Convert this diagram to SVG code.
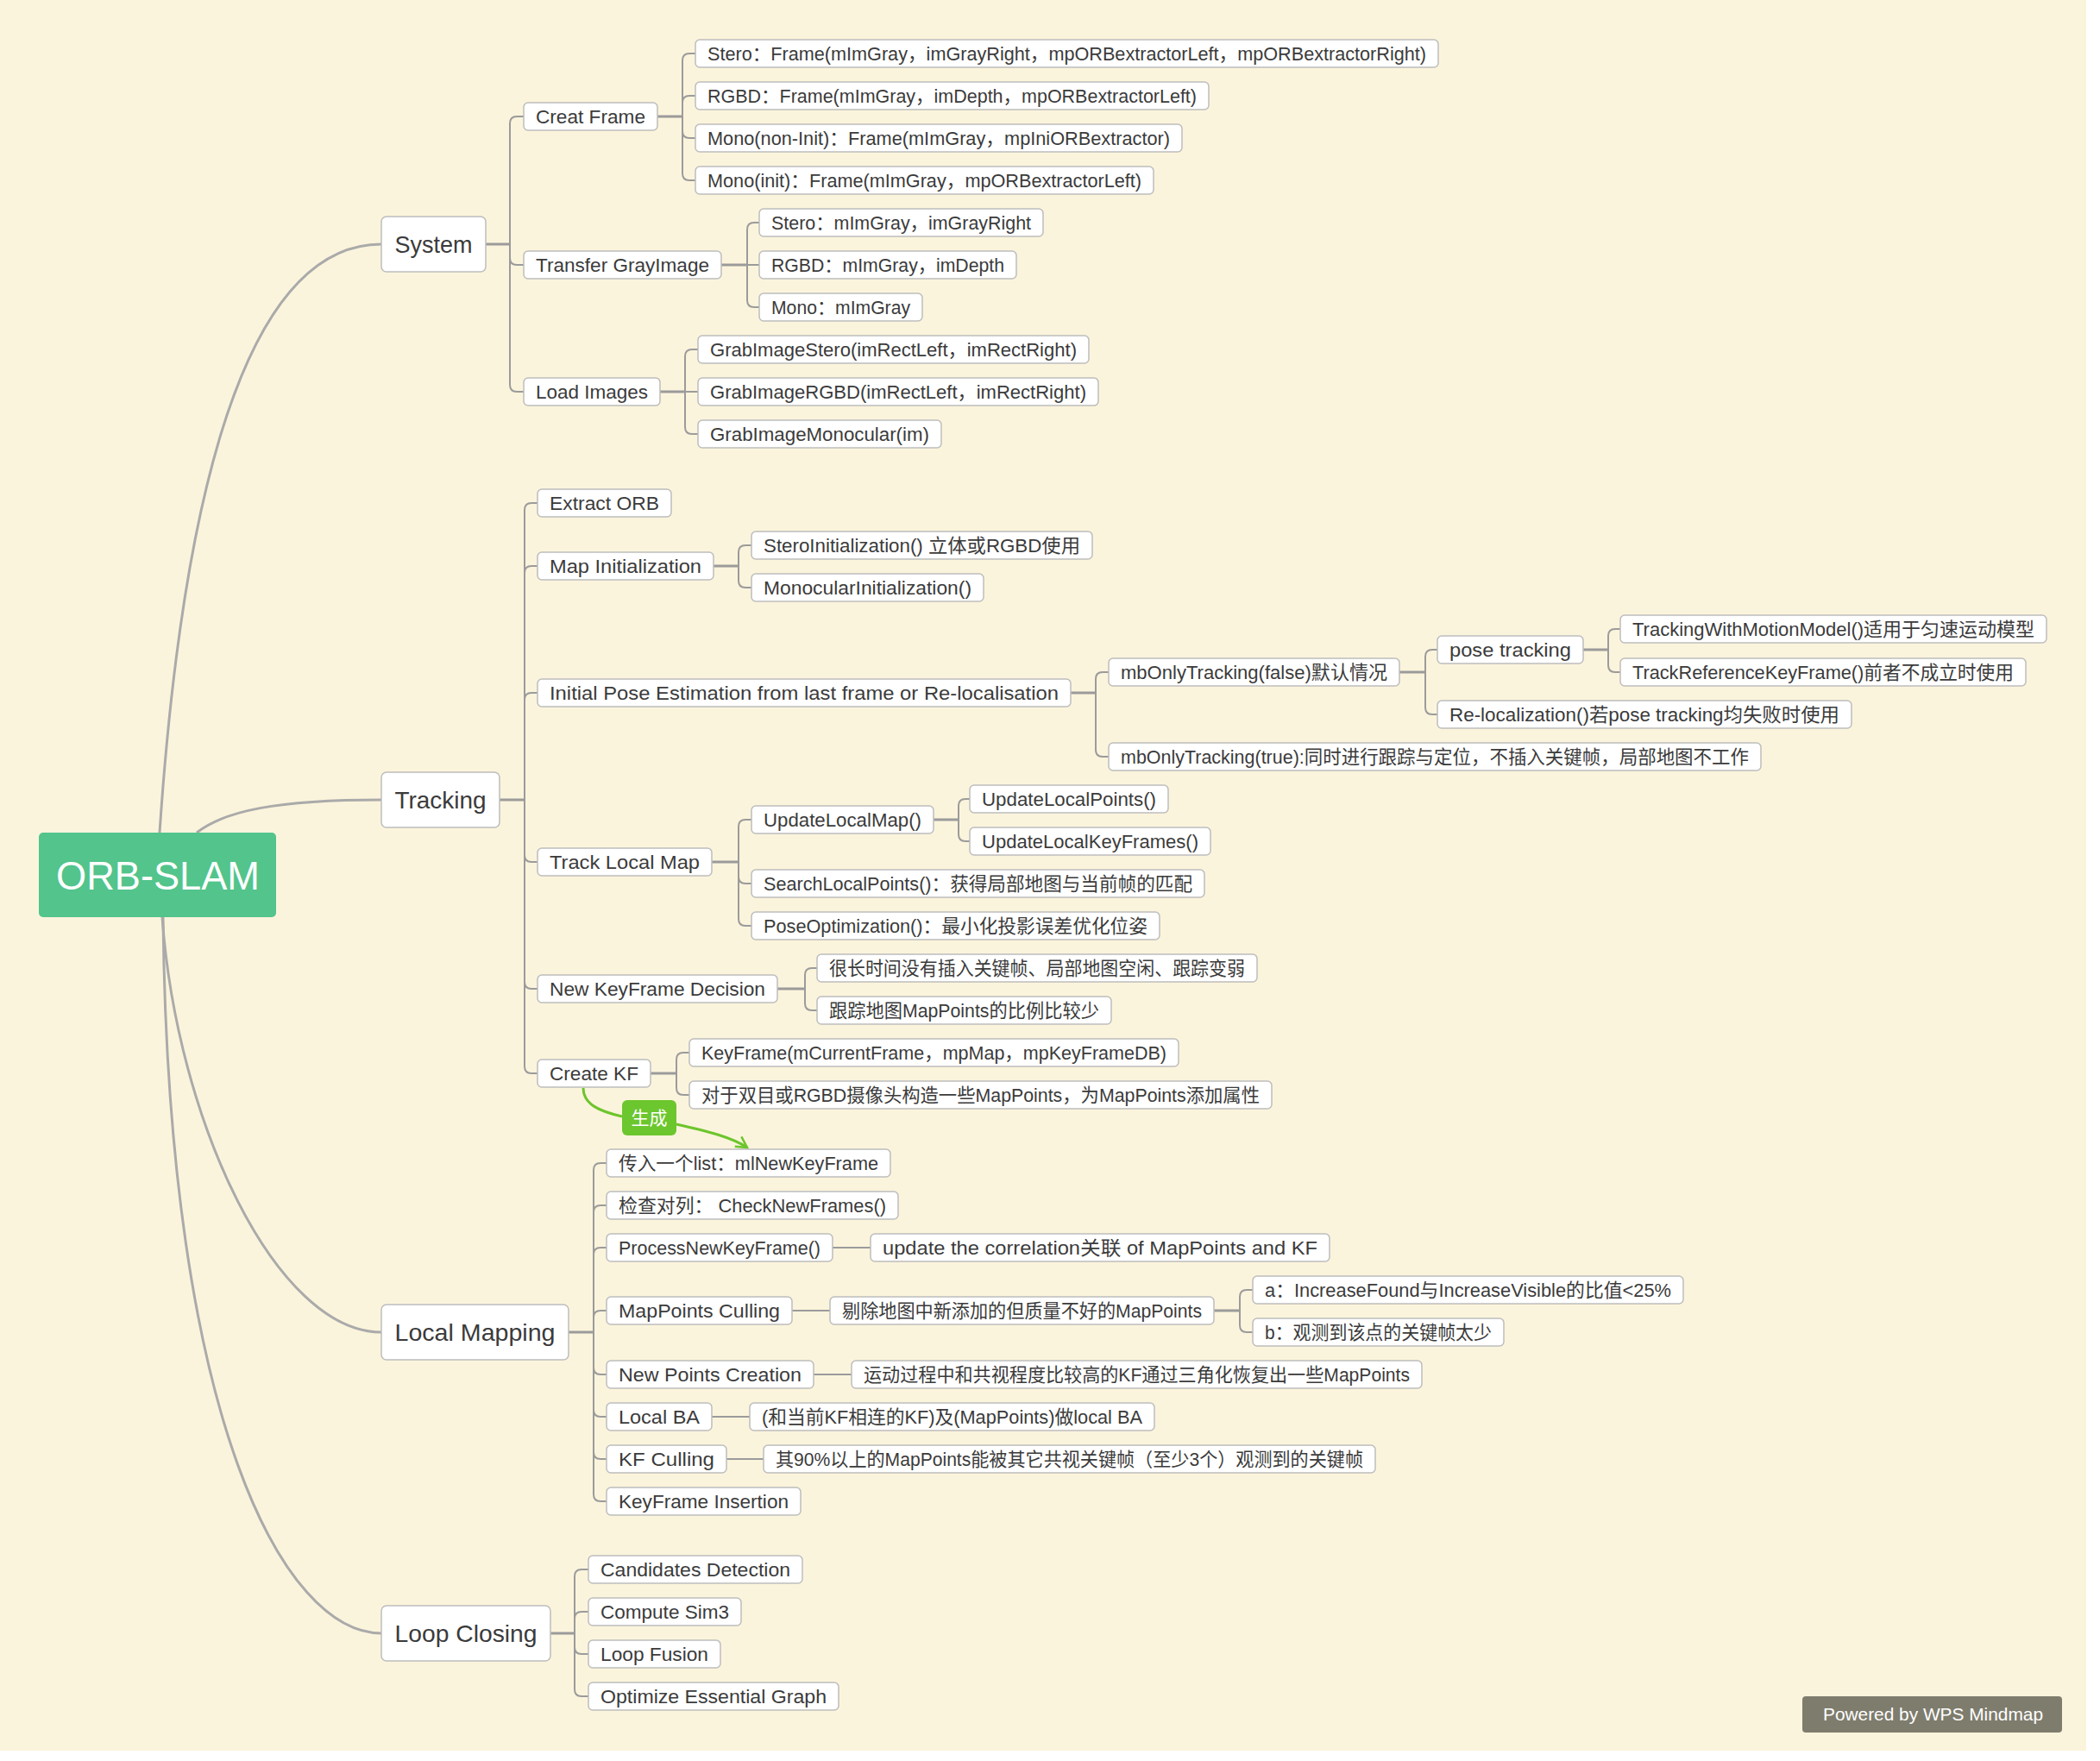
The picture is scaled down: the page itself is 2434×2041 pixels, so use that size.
<svg xmlns="http://www.w3.org/2000/svg" width="2434" height="2041" viewBox="0 0 2434 2041">
<style>
  text { font-family: "Liberation Sans", "Noto Sans CJK SC", sans-serif; fill: #3b3b3b; }
  .n rect { fill: #ffffff; stroke: #bdbdbd; stroke-width: 1.5; }
  .n text { font-size: 22px; }
  .l1 text { font-size: 28px; }
  .root rect { fill: #52c48c; stroke: none; }
  .root text { font-size: 47px; fill: #ffffff; }
  .c path { fill: none; stroke: #9b9b9b; stroke-width: 2; }
  .c path.stub { stroke-width: 3; }
  .c path.main { stroke: #aaaaaa; stroke-width: 3; }
  .rel path { fill: none; stroke: #6cc52c; stroke-width: 3; }
  .tag rect { fill: #6cc62e; }
  .tag text { font-size: 21px; fill: #ffffff; text-anchor: middle; }
  .badge rect { fill: #7e7c6d; }
  .badge text { font-size: 21px; fill: #ffffff; }
</style>
<defs>
  <marker id="openArrow" viewBox="0 0 14 14" refX="12" refY="7" markerWidth="16" markerHeight="16" markerUnits="userSpaceOnUse" orient="auto">
    <path d="M1 1 L12 7 L1 13" fill="none" stroke="#6cc52c" stroke-width="2.2"/>
  </marker>
</defs>

<!-- canvas -->
<rect x="0" y="0" width="2434" height="2041" fill="#ffffff"/>
<rect x="0" y="0" width="2418" height="2029" fill="#fbf4dc"/>

<!-- connectors -->
<g id="connectors" class="c">
  <!-- root branches -->
  <path class="main" d="M185 965 C215 520 300 283 442 283"/>
  <path class="main" d="M228 965 C260 940 320 927 442 927"/>
  <path class="main" d="M188 1063 C205 1300 320 1544 442 1544"/>
  <path class="main" d="M189 1063 C195 1650 330 1893 442 1893"/>

  <!-- System -->
  <path class="stub" d="M563 283 H591"/>
  <path d="M591 283 V143 Q591 135 599 135 H607"/>
  <path d="M591 283 V299 Q591 307 599 307 H607"/>
  <path d="M591 283 V446 Q591 454 599 454 H607"/>
  <!-- Creat Frame -->
  <path class="stub" d="M762 135 H791"/>
  <path d="M791 135 V70 Q791 62 799 62 H806"/>
  <path d="M791 135 V119 Q791 111 799 111 H806"/>
  <path d="M791 135 V152 Q791 160 799 160 H806"/>
  <path d="M791 135 V201 Q791 209 799 209 H806"/>
  <!-- Transfer GrayImage -->
  <path class="stub" d="M836 307 H866"/>
  <path d="M866 307 V266 Q866 258 874 258 H880"/>
  <path d="M866 307 H880"/>
  <path d="M866 307 V348 Q866 356 874 356 H880"/>
  <!-- Load Images -->
  <path class="stub" d="M765 454 H794"/>
  <path d="M794 454 V413 Q794 405 802 405 H809"/>
  <path d="M794 454 H809"/>
  <path d="M794 454 V495 Q794 503 802 503 H809"/>

  <!-- Tracking -->
  <path class="stub" d="M579 927 H608"/>
  <path d="M608 927 V591 Q608 583 616 583 H623"/>
  <path d="M608 927 V664 Q608 656 616 656 H623"/>
  <path d="M608 927 V811 Q608 803 616 803 H623"/>
  <path d="M608 927 V991 Q608 999 616 999 H623"/>
  <path d="M608 927 V1138 Q608 1146 616 1146 H623"/>
  <path d="M608 927 V1236 Q608 1244 616 1244 H623"/>
  <!-- Map Initialization -->
  <path class="stub" d="M827 656 H856"/>
  <path d="M856 656 V640 Q856 632 864 632 H871"/>
  <path d="M856 656 V673 Q856 681 864 681 H871"/>
  <!-- Initial Pose Estimation -->
  <path class="stub" d="M1241 803 H1270"/>
  <path d="M1270 803 V787 Q1270 779 1278 779 H1285"/>
  <path d="M1270 803 V869 Q1270 877 1278 877 H1285"/>
  <!-- mbOnlyTracking(false) -->
  <path class="stub" d="M1622 779 H1652"/>
  <path d="M1652 779 V761 Q1652 753 1660 753 H1666"/>
  <path d="M1652 779 V820 Q1652 828 1660 828 H1666"/>
  <!-- pose tracking -->
  <path class="stub" d="M1835 753 H1864"/>
  <path d="M1864 753 V737 Q1864 729 1872 729 H1878"/>
  <path d="M1864 753 V771 Q1864 779 1872 779 H1878"/>
  <!-- Track Local Map -->
  <path class="stub" d="M825 999 H856"/>
  <path d="M856 999 V958 Q856 950 864 950 H871"/>
  <path d="M856 999 V1016 Q856 1024 864 1024 H871"/>
  <path d="M856 999 V1065 Q856 1073 864 1073 H871"/>
  <!-- UpdateLocalMap -->
  <path class="stub" d="M1081 950 H1111"/>
  <path d="M1111 950 V934 Q1111 926 1119 926 H1124"/>
  <path d="M1111 950 V967 Q1111 975 1119 975 H1124"/>
  <!-- New KeyFrame Decision -->
  <path class="stub" d="M901 1146 H933"/>
  <path d="M933 1146 V1130 Q933 1122 941 1122 H947"/>
  <path d="M933 1146 V1163 Q933 1171 941 1171 H947"/>
  <!-- Create KF -->
  <path class="stub" d="M754 1244 H784"/>
  <path d="M784 1244 V1228 Q784 1220 792 1220 H799"/>
  <path d="M784 1244 V1261 Q784 1269 792 1269 H799"/>

  <!-- Local Mapping -->
  <path class="stub" d="M659 1544 H688"/>
  <path d="M688 1544 V1356 Q688 1348 696 1348 H703"/>
  <path d="M688 1544 V1405 Q688 1397 696 1397 H703"/>
  <path d="M688 1544 V1454 Q688 1446 696 1446 H703"/>
  <path d="M688 1544 V1527 Q688 1519 696 1519 H703"/>
  <path d="M688 1544 V1585 Q688 1593 696 1593 H703"/>
  <path d="M688 1544 V1634 Q688 1642 696 1642 H703"/>
  <path d="M688 1544 V1683 Q688 1691 696 1691 H703"/>
  <path d="M688 1544 V1732 Q688 1740 696 1740 H703"/>
  <path d="M965 1446 H1009"/>
  <path d="M918 1519 H962"/>
  <path d="M943 1593 H987"/>
  <path d="M825 1642 H869"/>
  <path d="M842 1691 H885"/>
  <path class="stub" d="M1407 1519 H1437"/>
  <path d="M1437 1519 V1503 Q1437 1495 1445 1495 H1452"/>
  <path d="M1437 1519 V1536 Q1437 1544 1445 1544 H1452"/>

  <!-- Loop Closing -->
  <path class="stub" d="M638 1893 H666"/>
  <path d="M666 1893 V1827 Q666 1819 674 1819 H682"/>
  <path d="M666 1893 V1876 Q666 1868 674 1868 H682"/>
  <path d="M666 1893 V1909 Q666 1917 674 1917 H682"/>
  <path d="M666 1893 V1958 Q666 1966 674 1966 H682"/>
</g>

<!-- relation: Create KF to Local Mapping input -->
<g id="relation" class="rel">
  <path d="M676 1261 C676 1280 695 1288 721 1294"/>
  <path d="M784 1303 C820 1311 848 1318 866 1330" marker-end="url(#openArrow)"/>
</g>
<g id="tag-generate" class="tag">
  <rect x="721" y="1275" width="63" height="41" rx="6"/>
  <text x="752.5" y="1303">生成</text>
</g>

<!-- root -->
<g id="orb-slam" class="root">
  <rect x="45" y="965" width="275" height="98" rx="5"/>
  <text x="65" y="1031" textLength="236" lengthAdjust="spacingAndGlyphs">ORB-SLAM</text>
</g>

<!-- first level -->
<g id="system" class="n l1"><rect x="442" y="251" width="121" height="64" rx="6"/><text x="457.5" y="293" textLength="90" lengthAdjust="spacingAndGlyphs">System</text></g>
<g id="tracking" class="n l1"><rect x="442" y="895" width="137" height="64" rx="6"/><text x="457.5" y="937" textLength="106" lengthAdjust="spacingAndGlyphs">Tracking</text></g>
<g id="local-mapping" class="n l1"><rect x="442" y="1512" width="217" height="64" rx="6"/><text x="457.5" y="1554" textLength="186" lengthAdjust="spacingAndGlyphs">Local Mapping</text></g>
<g id="loop-closing" class="n l1"><rect x="442" y="1861" width="196" height="64" rx="6"/><text x="457.5" y="1903" textLength="165" lengthAdjust="spacingAndGlyphs">Loop Closing</text></g>

<!-- System branch -->
<g id="creat-frame" class="n"><rect x="607" y="119" width="155" height="32" rx="5"/><text x="621" y="143" textLength="127" lengthAdjust="spacingAndGlyphs">Creat Frame</text></g>
<g id="transfer-grayimage" class="n"><rect x="607" y="291" width="229" height="32" rx="5"/><text x="621" y="315" textLength="201" lengthAdjust="spacingAndGlyphs">Transfer GrayImage</text></g>
<g id="load-images" class="n"><rect x="607" y="438" width="158" height="32" rx="5"/><text x="621" y="462" textLength="130" lengthAdjust="spacingAndGlyphs">Load Images</text></g>
<g id="cf-stero" class="n"><rect x="806" y="46" width="861" height="32" rx="5"/><text x="820" y="70" textLength="833" lengthAdjust="spacingAndGlyphs">Stero：Frame(mImGray，imGrayRight，mpORBextractorLeft，mpORBextractorRight)</text></g>
<g id="cf-rgbd" class="n"><rect x="806" y="95" width="595" height="32" rx="5"/><text x="820" y="119" textLength="567" lengthAdjust="spacingAndGlyphs">RGBD：Frame(mImGray，imDepth，mpORBextractorLeft)</text></g>
<g id="cf-mono-noninit" class="n"><rect x="806" y="144" width="564" height="32" rx="5"/><text x="820" y="168" textLength="536" lengthAdjust="spacingAndGlyphs">Mono(non-Init)：Frame(mImGray，mpIniORBextractor)</text></g>
<g id="cf-mono-init" class="n"><rect x="806" y="193" width="531" height="32" rx="5"/><text x="820" y="217" textLength="503" lengthAdjust="spacingAndGlyphs">Mono(init)：Frame(mImGray，mpORBextractorLeft)</text></g>
<g id="tg-stero" class="n"><rect x="880" y="242" width="329" height="32" rx="5"/><text x="894" y="266" textLength="301" lengthAdjust="spacingAndGlyphs">Stero：mImGray，imGrayRight</text></g>
<g id="tg-rgbd" class="n"><rect x="880" y="291" width="298" height="32" rx="5"/><text x="894" y="315" textLength="270" lengthAdjust="spacingAndGlyphs">RGBD：mImGray，imDepth</text></g>
<g id="tg-mono" class="n"><rect x="880" y="340" width="189" height="32" rx="5"/><text x="894" y="364" textLength="161" lengthAdjust="spacingAndGlyphs">Mono：mImGray</text></g>
<g id="li-stero" class="n"><rect x="809" y="389" width="453" height="32" rx="5"/><text x="823" y="413" textLength="425" lengthAdjust="spacingAndGlyphs">GrabImageStero(imRectLeft，imRectRight)</text></g>
<g id="li-rgbd" class="n"><rect x="809" y="438" width="464" height="32" rx="5"/><text x="823" y="462" textLength="436" lengthAdjust="spacingAndGlyphs">GrabImageRGBD(imRectLeft，imRectRight)</text></g>
<g id="li-mono" class="n"><rect x="809" y="487" width="282" height="32" rx="5"/><text x="823" y="511" textLength="254" lengthAdjust="spacingAndGlyphs">GrabImageMonocular(im)</text></g>

<!-- Tracking branch -->
<g id="extract-orb" class="n"><rect x="623" y="567" width="155" height="32" rx="5"/><text x="637" y="591" textLength="127" lengthAdjust="spacingAndGlyphs">Extract ORB</text></g>
<g id="map-init" class="n"><rect x="623" y="640" width="204" height="32" rx="5"/><text x="637" y="664" textLength="176" lengthAdjust="spacingAndGlyphs">Map Initialization</text></g>
<g id="initial-pose" class="n"><rect x="623" y="787" width="618" height="32" rx="5"/><text x="637" y="811" textLength="590" lengthAdjust="spacingAndGlyphs">Initial Pose Estimation from last frame or Re-localisation</text></g>
<g id="track-local-map" class="n"><rect x="623" y="983" width="202" height="32" rx="5"/><text x="637" y="1007" textLength="174" lengthAdjust="spacingAndGlyphs">Track Local Map</text></g>
<g id="new-kf-decision" class="n"><rect x="623" y="1130" width="278" height="32" rx="5"/><text x="637" y="1154" textLength="250" lengthAdjust="spacingAndGlyphs">New KeyFrame Decision</text></g>
<g id="create-kf" class="n"><rect x="623" y="1228" width="131" height="32" rx="5"/><text x="637" y="1252" textLength="103" lengthAdjust="spacingAndGlyphs">Create KF</text></g>
<g id="mi-stereo" class="n"><rect x="871" y="616" width="395" height="32" rx="5"/><text x="885" y="640" textLength="367" lengthAdjust="spacingAndGlyphs">SteroInitialization() 立体或RGBD使用</text></g>
<g id="mi-mono" class="n"><rect x="871" y="665" width="269" height="32" rx="5"/><text x="885" y="689" textLength="241" lengthAdjust="spacingAndGlyphs">MonocularInitialization()</text></g>
<g id="ip-false" class="n"><rect x="1285" y="763" width="337" height="32" rx="5"/><text x="1299" y="787" textLength="309" lengthAdjust="spacingAndGlyphs">mbOnlyTracking(false)默认情况</text></g>
<g id="ip-true" class="n"><rect x="1285" y="861" width="756" height="32" rx="5"/><text x="1299" y="885" textLength="728" lengthAdjust="spacingAndGlyphs">mbOnlyTracking(true):同时进行跟踪与定位，不插入关键帧，局部地图不工作</text></g>
<g id="pose-tracking" class="n"><rect x="1666" y="737" width="169" height="32" rx="5"/><text x="1680" y="761" textLength="141" lengthAdjust="spacingAndGlyphs">pose tracking</text></g>
<g id="relocalization" class="n"><rect x="1666" y="812" width="480" height="32" rx="5"/><text x="1680" y="836" textLength="452" lengthAdjust="spacingAndGlyphs">Re-localization()若pose tracking均失败时使用</text></g>
<g id="motion-model" class="n"><rect x="1878" y="713" width="494" height="32" rx="5"/><text x="1892" y="737" textLength="466" lengthAdjust="spacingAndGlyphs">TrackingWithMotionModel()适用于匀速运动模型</text></g>
<g id="reference-kf" class="n"><rect x="1878" y="763" width="470" height="32" rx="5"/><text x="1892" y="787" textLength="442" lengthAdjust="spacingAndGlyphs">TrackReferenceKeyFrame()前者不成立时使用</text></g>
<g id="update-local-map" class="n"><rect x="871" y="934" width="211" height="32" rx="5"/><text x="885" y="958" textLength="183" lengthAdjust="spacingAndGlyphs">UpdateLocalMap()</text></g>
<g id="search-local-points" class="n"><rect x="871" y="1008" width="525" height="32" rx="5"/><text x="885" y="1032" textLength="497" lengthAdjust="spacingAndGlyphs">SearchLocalPoints()：获得局部地图与当前帧的匹配</text></g>
<g id="pose-optimization" class="n"><rect x="871" y="1057" width="473" height="32" rx="5"/><text x="885" y="1081" textLength="445" lengthAdjust="spacingAndGlyphs">PoseOptimization()：最小化投影误差优化位姿</text></g>
<g id="update-local-points" class="n"><rect x="1124" y="910" width="230" height="32" rx="5"/><text x="1138" y="934" textLength="202" lengthAdjust="spacingAndGlyphs">UpdateLocalPoints()</text></g>
<g id="update-local-keyframes" class="n"><rect x="1124" y="959" width="279" height="32" rx="5"/><text x="1138" y="983" textLength="251" lengthAdjust="spacingAndGlyphs">UpdateLocalKeyFrames()</text></g>
<g id="kfd-idle" class="n"><rect x="947" y="1106" width="510" height="32" rx="5"/><text x="961" y="1130" textLength="482" lengthAdjust="spacingAndGlyphs">很长时间没有插入关键帧、局部地图空闲、跟踪变弱</text></g>
<g id="kfd-ratio" class="n"><rect x="947" y="1155" width="341" height="32" rx="5"/><text x="961" y="1179" textLength="313" lengthAdjust="spacingAndGlyphs">跟踪地图MapPoints的比例比较少</text></g>
<g id="ckf-ctor" class="n"><rect x="799" y="1204" width="567" height="32" rx="5"/><text x="813" y="1228" textLength="539" lengthAdjust="spacingAndGlyphs">KeyFrame(mCurrentFrame，mpMap，mpKeyFrameDB)</text></g>
<g id="ckf-mappoints" class="n"><rect x="799" y="1253" width="675" height="32" rx="5"/><text x="813" y="1277" textLength="647" lengthAdjust="spacingAndGlyphs">对于双目或RGBD摄像头构造一些MapPoints，为MapPoints添加属性</text></g>

<!-- Local Mapping branch -->
<g id="lm-list" class="n"><rect x="703" y="1332" width="329" height="32" rx="5"/><text x="717" y="1356" textLength="301" lengthAdjust="spacingAndGlyphs">传入一个list：mlNewKeyFrame</text></g>
<g id="lm-check" class="n"><rect x="703" y="1381" width="338" height="32" rx="5"/><text x="717" y="1405" textLength="310" lengthAdjust="spacingAndGlyphs">检查对列： CheckNewFrames()</text></g>
<g id="lm-process" class="n"><rect x="703" y="1430" width="262" height="32" rx="5"/><text x="717" y="1454" textLength="234" lengthAdjust="spacingAndGlyphs">ProcessNewKeyFrame()</text></g>
<g id="lm-process-note" class="n"><rect x="1009" y="1430" width="532" height="32" rx="5"/><text x="1023" y="1454" textLength="504" lengthAdjust="spacingAndGlyphs">update the correlation关联 of MapPoints and KF</text></g>
<g id="lm-mp-culling" class="n"><rect x="703" y="1503" width="215" height="32" rx="5"/><text x="717" y="1527" textLength="187" lengthAdjust="spacingAndGlyphs">MapPoints Culling</text></g>
<g id="lm-mp-culling-note" class="n"><rect x="962" y="1503" width="445" height="32" rx="5"/><text x="976" y="1527" textLength="417" lengthAdjust="spacingAndGlyphs">剔除地图中新添加的但质量不好的MapPoints</text></g>
<g id="lm-mp-culling-a" class="n"><rect x="1452" y="1479" width="499" height="32" rx="5"/><text x="1466" y="1503" textLength="471" lengthAdjust="spacingAndGlyphs">a：IncreaseFound与IncreaseVisible的比值&lt;25%</text></g>
<g id="lm-mp-culling-b" class="n"><rect x="1452" y="1528" width="291" height="32" rx="5"/><text x="1466" y="1552" textLength="263" lengthAdjust="spacingAndGlyphs">b：观测到该点的关键帧太少</text></g>
<g id="lm-new-points" class="n"><rect x="703" y="1577" width="240" height="32" rx="5"/><text x="717" y="1601" textLength="212" lengthAdjust="spacingAndGlyphs">New Points Creation</text></g>
<g id="lm-new-points-note" class="n"><rect x="987" y="1577" width="661" height="32" rx="5"/><text x="1001" y="1601" textLength="633" lengthAdjust="spacingAndGlyphs">运动过程中和共视程度比较高的KF通过三角化恢复出一些MapPoints</text></g>
<g id="lm-local-ba" class="n"><rect x="703" y="1626" width="122" height="32" rx="5"/><text x="717" y="1650" textLength="94" lengthAdjust="spacingAndGlyphs">Local BA</text></g>
<g id="lm-local-ba-note" class="n"><rect x="869" y="1626" width="469" height="32" rx="5"/><text x="883" y="1650" textLength="441" lengthAdjust="spacingAndGlyphs">(和当前KF相连的KF)及(MapPoints)做local BA</text></g>
<g id="lm-kf-culling" class="n"><rect x="703" y="1675" width="139" height="32" rx="5"/><text x="717" y="1699" textLength="111" lengthAdjust="spacingAndGlyphs">KF Culling</text></g>
<g id="lm-kf-culling-note" class="n"><rect x="885" y="1675" width="709" height="32" rx="5"/><text x="899" y="1699" textLength="681" lengthAdjust="spacingAndGlyphs">其90%以上的MapPoints能被其它共视关键帧（至少3个）观测到的关键帧</text></g>
<g id="lm-kf-insertion" class="n"><rect x="703" y="1724" width="225" height="32" rx="5"/><text x="717" y="1748" textLength="197" lengthAdjust="spacingAndGlyphs">KeyFrame Insertion</text></g>

<!-- Loop Closing branch -->
<g id="lc-candidates" class="n"><rect x="682" y="1803" width="248" height="32" rx="5"/><text x="696" y="1827" textLength="220" lengthAdjust="spacingAndGlyphs">Candidates Detection</text></g>
<g id="lc-sim3" class="n"><rect x="682" y="1852" width="177" height="32" rx="5"/><text x="696" y="1876" textLength="149" lengthAdjust="spacingAndGlyphs">Compute Sim3</text></g>
<g id="lc-fusion" class="n"><rect x="682" y="1901" width="153" height="32" rx="5"/><text x="696" y="1925" textLength="125" lengthAdjust="spacingAndGlyphs">Loop Fusion</text></g>
<g id="lc-essential" class="n"><rect x="682" y="1950" width="290" height="32" rx="5"/><text x="696" y="1974" textLength="262" lengthAdjust="spacingAndGlyphs">Optimize Essential Graph</text></g>

<!-- footer badge -->
<g id="powered-by" class="badge">
  <rect x="2089" y="1966" width="301" height="42" rx="4"/>
  <text x="2113" y="1994" textLength="255" lengthAdjust="spacingAndGlyphs">Powered by WPS Mindmap</text>
</g>
</svg>
